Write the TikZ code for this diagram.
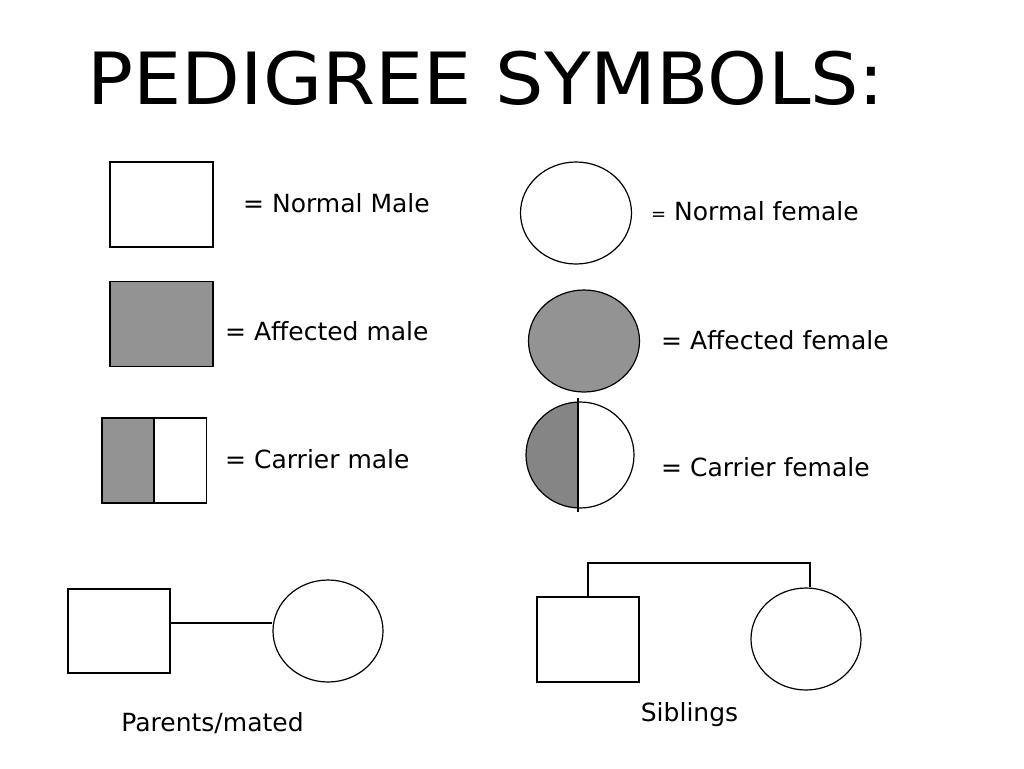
\documentclass[tikz,border=0pt]{standalone}
\usepackage{fontspec}
\setmainfont{DejaVu Sans}
\usepackage{tikz}
\usepackage{xcolor}
\usetikzlibrary{positioning,shapes.geometric,calc}

\definecolor{affgray}{HTML}{939393}
\definecolor{cargray}{HTML}{858585}

\begin{document}
\begin{tikzpicture}[
          x=1pt, y=-1pt,
          male/.style={draw, line width=1.2pt, rectangle, inner sep=0pt, minimum width=103pt, minimum height=85pt},
          female/.style={draw, line width=1.2pt, ellipse, inner sep=0pt, minimum width=111pt, minimum height=102pt},
          half/.style={draw, line width=1.2pt, rectangle, inner sep=0pt, minimum width=51.5pt, minimum height=85pt},
          lbl/.style={font=\fontsize{25}{30}\selectfont, inner sep=0pt},
          link/.style={line width=1.2pt}
      ]
        \useasboundingbox (0,0) rectangle (1024,768);
        \node[font=\fontsize{72}{80}\selectfont, inner sep=0pt] (title) at (486,78) {\scalebox{1.06}[1]{PEDIGREE SYMBOLS:}};
        % males
        \node[male] (nm) at (161.5,204.5) {};
        \node[male, fill=affgray] (am) at (161.5,324) {};
        \node[half, fill=affgray] (cml) at (127.75,460.5) {};
        \node[half, right=0pt of cml] (cmr) {};
        \node[lbl, anchor=west] (nmt) at (243,203) {= Normal Male};
        \node[lbl, anchor=west] (amt) at (225,331) {= Affected male};
        \node[lbl, anchor=west] (cmt) at (225,459) {= Carrier male};
        % females
        \node[female] (nf) at (576,213) {};
        \node[female, fill=affgray] (af) at (584,341) {};
        \node[female, minimum width=108pt, minimum height=106pt,
              path picture={\fill[cargray] (path picture bounding box.north west) rectangle ($(path picture bounding box.south)+(-2,0)$);}] (cf) at (580,455) {};
        \draw[link] ($(cf.north)+(-2,-3)$) -- ($(cf.south)+(-2,3)$);
        \node[lbl, anchor=west] (nft) at (651,211) {{\fontsize{18}{20}\selectfont =} Normal female};
        \node[lbl, anchor=west] (aft) at (661,340) {= Affected female};
        \node[lbl, anchor=west] (cft) at (661,467) {= Carrier female};
        % parents
        \node[male, minimum width=102pt, minimum height=84pt] (pm) at (119,631) {};
        \node[female, minimum width=110pt] (pf) at (328,631) {};
        \draw[link] (pm.east |- 0,623) -- (pf.west |- 0,623);
        \node[lbl] (pt) at (212.5,723) {Parents/mated};
        % siblings
        \node[male, minimum width=102pt] (sm) at (588,639.5) {};
        \node[female, minimum width=110pt] (sf) at (806,639) {};
        \draw[link] (sm.north) -- (588,563) -- (810,563) -- (sf.north -| 810,0);
        \node[lbl] (st) at (689.5,715) {Siblings};
      \end{tikzpicture}
\end{document}
